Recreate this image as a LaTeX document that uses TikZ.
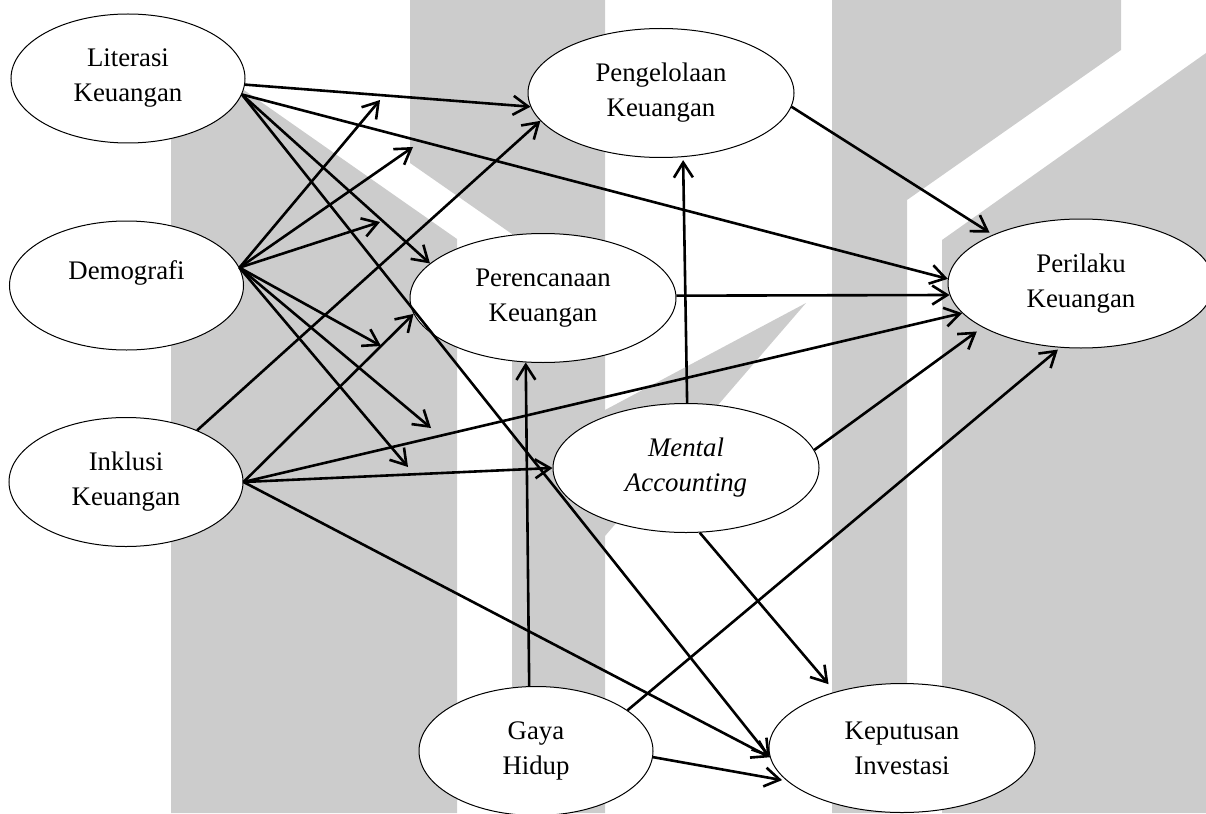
\documentclass[tikz,border=0pt]{standalone}
\usepackage{fontspec}
\setmainfont{Liberation Serif}
\usetikzlibrary{arrows.meta,shapes.geometric}
\definecolor{wmgray}{RGB}{204,204,204}
\begin{document}
\begin{tikzpicture}[x=1pt,y=-1pt,
  nodeell/.style={ellipse, draw, line width=1pt, fill=white, inner sep=0pt, align=center,
    font=\fontsize{26.8}{35}\selectfont},
  smallell/.style={nodeell, minimum width=234pt, minimum height=129pt},
  bigell/.style={nodeell, minimum width=266pt, minimum height=129pt},
  conn/.style={line width=2.6pt, -{Straight Barb[length=15pt,width=19pt]}},
  wm/.style={fill=wmgray, draw=none}]
\useasboundingbox (0,0) rectangle (1206,813);
% watermark
\fill[wm] (171,39) -- (457,239) -- (457,813) -- (171,813) -- cycle;
\fill[wm] (410,0) -- (605,0) -- (605,813) -- (512,813) -- (512,234) -- (410,163) -- cycle;
\fill[wm] (605,410) -- (806,303) -- (605,536) -- cycle;
\fill[wm] (832,0) -- (1121,0) -- (1121,50) -- (907,200) -- (907,813) -- (832,813) -- cycle;
\fill[wm] (942,240) -- (1206,53) -- (1206,813) -- (942,813) -- cycle;
% nodes
\node[smallell] (lit) at (128,78.5) {Literasi\\Keuangan};
\node[smallell, text height=18pt, text depth=31pt] (dem) at (126.5,285.5) {Demografi};
\node[smallell] (ink) at (126,482) {Inklusi\\Keuangan};
\node[bigell] (pen) at (661,93) {Pengelolaan\\Keuangan};
\node[bigell] (per) at (543,298) {Perencanaan\\Keuangan};
\node[bigell] (pri) at (1081,283.5) {Perilaku\\Keuangan};
\node[bigell] (men) at (686,468) {\itshape Mental\\\itshape Accounting};
\node[smallell] (gay) at (536,751) {Gaya\\Hidup};
\node[bigell] (kep) at (902,748) {Keputusan\\Investasi};
% free ends
\coordinate (d1) at (380,100);
\coordinate (d2) at (413,147);
\coordinate (d3) at (380,222);
\coordinate (d4) at (381,346);
\coordinate (d5) at (431,428);
\coordinate (d6) at (408,467);
% Literasi
\draw[conn] (lit.-3.2) -- (pen.-174);
\draw[conn] (lit.-8) -- (pri.178.5);
\draw[conn] (lit.-8) -- (per.163.7);
\draw[conn] (lit.-8) -- (kep.-176.6);
% Demografi
\foreach \t in {d1,d2,d3,d4,d5,d6}{\draw[conn] (dem.9) -- (\t);}
% Inklusi
\draw[conn] (ink.36) -- (pen.-167.8);
\draw[conn] (ink.-0.5) -- (per.-173.2);
\draw[conn] (ink.-0.5) -- (pri.-166.4);
\draw[conn] (ink.-0.5) -- (men.180);
\draw[conn] (ink.-0.5) -- (kep.-176.6);
% Mental
\draw[conn, shorten >=3pt] (men.89) -- (pen.-71.1);
\draw[conn, shorten >=7pt] (men.8.1) -- (pri.-156.1);
\draw[conn, shorten >=10pt] (men.-78.5) -- (kep.140.8);
% Gaya
\draw[conn] (gay.96.7) -- (per.-105.3);
\draw[conn, shorten >=3pt] (gay.24) -- (pri.-108.3);
\draw[conn, shorten >=5pt] (gay.-3.9) -- (kep.-164.9);
% others
\draw[conn] (per.1.3) -- (pri.-175.1);
\draw[conn, shorten >=4pt] (pen.-6) -- (pri.151.2);
\end{tikzpicture}
\end{document}
